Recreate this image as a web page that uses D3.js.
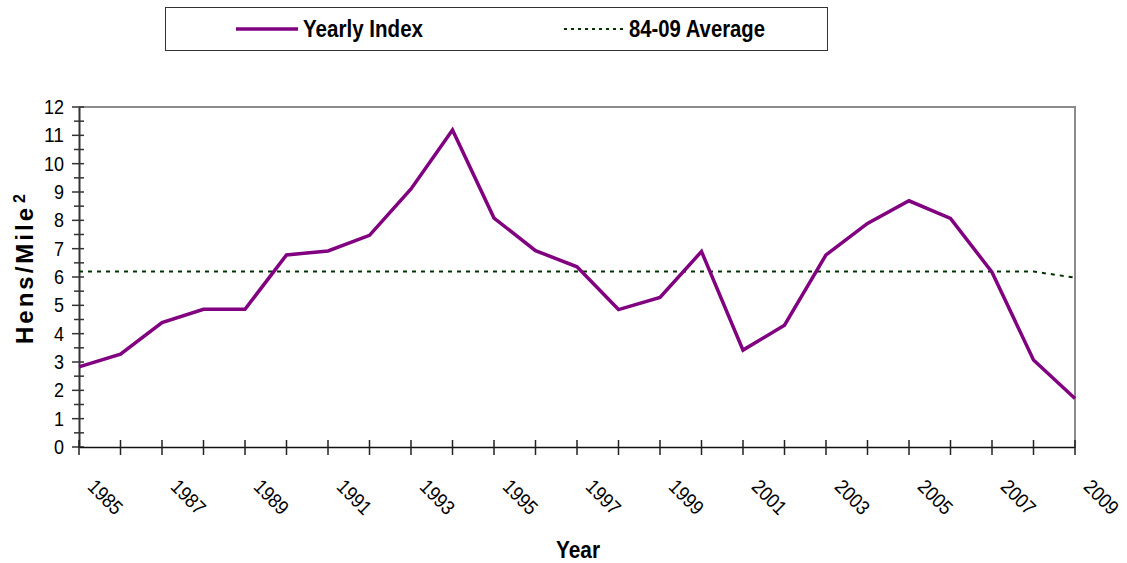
<!DOCTYPE html>
<html>
<head>
<meta charset="utf-8">
<script src="https://cdn.jsdelivr.net/npm/d3@7/dist/d3.min.js"></script>
<style>
  html, body { margin: 0; padding: 0; background: #fff; }
  svg { display: block; font-family: "Liberation Sans", Arial, sans-serif; }
</style>
</head>
<body>
<svg id="chart" width="1127" height="563"></svg>
<script>
const years = [1985,1986,1987,1988,1989,1990,1991,1992,1993,1994,1995,1996,1997,1998,1999,2000,2001,2002,2003,2004,2005,2006,2007,2008,2009];
const yearlyIndex = [2.83,3.28,4.39,4.86,4.86,6.78,6.92,7.47,9.11,11.19,8.08,6.93,6.36,4.85,5.28,6.9,3.42,4.3,6.78,7.89,8.69,8.07,6.17,3.07,1.71];
const average = [6.19,6.19,6.19,6.19,6.19,6.19,6.19,6.19,6.19,6.19,6.19,6.19,6.19,6.19,6.19,6.19,6.19,6.19,6.19,6.19,6.19,6.19,6.19,6.19,5.98];
const xTickLabels = [1985,1987,1989,1991,1993,1995,1997,1999,2001,2003,2005,2007,2009];
const yTicks = [0,1,2,3,4,5,6,7,8,9,10,11,12];
const seriesNames = ["Yearly Index", "84-09 Average"];
const xTitle = "Year";
const yTitle = "Hens/Mile";

const svg = d3.select("#chart");
const pLeft = 79, pRight = 1075, pTop = 107, pBottom = 447;

const x = d3.scaleLinear().domain([1985, 2009]).range([pLeft, pRight]);
const y = d3.scaleLinear().domain([0, 12]).range([pBottom, pTop]);

const purple = "#800080";
const green = "#003300";

// plot border (top & right, gray)
svg.append("path")
  .attr("d", `M${pLeft},${pTop}H${pRight}V${pBottom}`)
  .attr("fill", "none").attr("stroke", "#8c8c8c").attr("stroke-width", 2);

// Y axis
const yAxis = d3.axisLeft(y).tickValues(yTicks).tickSize(0).tickPadding(15).tickFormat(d3.format("d"));
const gy = svg.append("g").attr("transform", `translate(${pLeft},0)`).call(yAxis);
gy.select(".domain").attr("stroke", "#333").attr("stroke-width", 2);
gy.selectAll("text").attr("font-size", 20).attr("fill", "#000")
  .attr("font-family", "Liberation Sans, Arial, sans-serif")
  .attr("textLength", d => d >= 10 ? 20 : 10).attr("lengthAdjust", "spacingAndGlyphs");
// y ticks (major + minor), crossing axis
const yMinor = d3.range(0, 12.01, 0.5);
svg.append("g").selectAll("line").data(yMinor).join("line")
  .attr("x1", d => Number.isInteger(d) ? pLeft - 7 : pLeft - 5)
  .attr("x2", d => pLeft + 5)
  .attr("y1", d => y(d)).attr("y2", d => y(d))
  .attr("stroke", "#333").attr("stroke-width", 1.5);

// X axis
const xAxis = d3.axisBottom(x).tickValues(xTickLabels).tickSize(0).tickFormat(d3.format("d"));
const gx = svg.append("g").attr("transform", `translate(0,${pBottom})`).call(xAxis);
gx.select(".domain").attr("stroke", "#111").attr("stroke-width", 1.5);
gx.selectAll("text")
  .attr("font-size", 20).attr("fill", "#000")
  .attr("font-family", "Liberation Sans, Arial, sans-serif")
  .attr("text-anchor", "middle")
  .attr("textLength", 40).attr("lengthAdjust", "spacingAndGlyphs")
  .attr("dy", null)
  .attr("y", null)
  .attr("transform", "translate(26,50) rotate(45)")
  .attr("dominant-baseline", "central");
svg.append("g").selectAll("line").data(years).join("line")
  .attr("x1", d => x(d)).attr("x2", d => x(d))
  .attr("y1", pBottom - 7).attr("y2", pBottom + 8)
  .attr("stroke", "#222").attr("stroke-width", 1.5);

// lines
const line = d3.line().x((d, i) => x(years[i])).y(d => y(d));
svg.append("path").datum(average).attr("d", line)
  .attr("fill", "none").attr("stroke", green).attr("stroke-width", 2)
  .attr("stroke-dasharray", "4,5");
svg.append("path").datum(yearlyIndex).attr("d", line)
  .attr("fill", "none").attr("stroke", purple).attr("stroke-width", 3.5)
  .attr("stroke-linejoin", "miter");

// axis titles
svg.append("text").attr("x", 556).attr("y", 558)
  .attr("font-weight", "bold").attr("font-size", 23)
  .attr("textLength", 44).attr("lengthAdjust", "spacingAndGlyphs")
  .text(xTitle);
const yt = svg.append("text")
  .attr("transform", "translate(33,344) rotate(-90)")
  .attr("text-anchor", "start").attr("font-weight", "bold").attr("font-size", 24)
  .attr("letter-spacing", 3);
yt.append("tspan").text(yTitle);
yt.append("tspan").attr("dx", 2).attr("dy", -8).attr("font-size", 16).text("2");

// legend
svg.append("rect").attr("x", 165.5).attr("y", 7.5).attr("width", 662).attr("height", 43)
  .attr("fill", "#fff").attr("stroke", "#333").attr("stroke-width", 1);
svg.append("line").attr("x1", 236).attr("x2", 298).attr("y1", 29).attr("y2", 29)
  .attr("stroke", purple).attr("stroke-width", 3.5);
svg.append("text").attr("x", 303).attr("y", 37).attr("font-weight", "bold").attr("font-size", 23)
  .attr("textLength", 120).attr("lengthAdjust", "spacingAndGlyphs")
  .text(seriesNames[0]);
svg.append("line").attr("x1", 564).attr("x2", 625).attr("y1", 29).attr("y2", 29)
  .attr("stroke", green).attr("stroke-width", 2).attr("stroke-dasharray", "3,4");
svg.append("text").attr("x", 629).attr("y", 37).attr("font-weight", "bold").attr("font-size", 23)
  .attr("textLength", 136).attr("lengthAdjust", "spacingAndGlyphs")
  .text(seriesNames[1]);
</script>
</body>
</html>
